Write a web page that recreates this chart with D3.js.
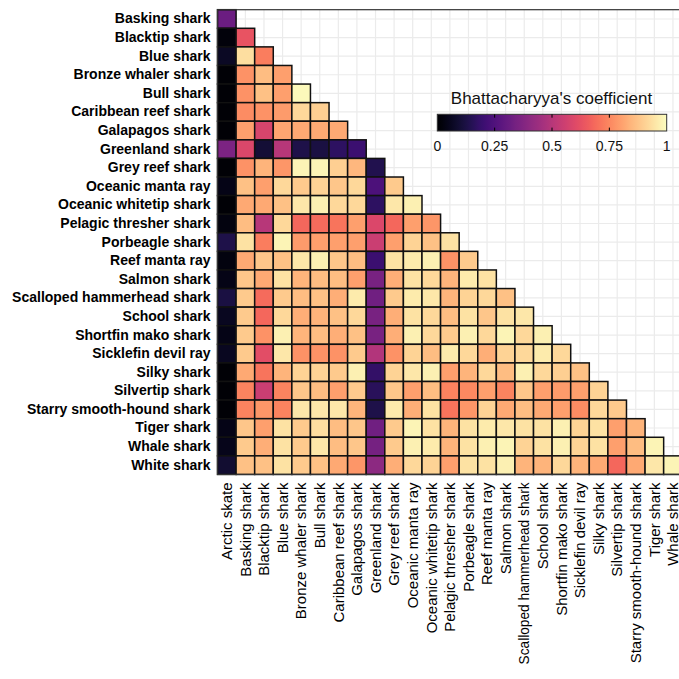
<!DOCTYPE html>
<html>
<head>
<meta charset="utf-8">
<script src="https://cdn.jsdelivr.net/npm/d3@7"></script>
<style>
  html, body { margin: 0; padding: 0; background: #fff; overflow: hidden; }
  svg { display: block; }
</style>
</head>
<body>
<svg id="chart" width="679" height="679"></svg>
<script>
// Row species (y axis, top to bottom)
const rowSpecies = ["Basking shark", "Blacktip shark", "Blue shark", "Bronze whaler shark", "Bull shark",
  "Caribbean reef shark", "Galapagos shark", "Greenland shark", "Grey reef shark", "Oceanic manta ray",
  "Oceanic whitetip shark", "Pelagic thresher shark", "Porbeagle shark", "Reef manta ray", "Salmon shark",
  "Scalloped hammerhead shark", "School shark", "Shortfin mako shark", "Sicklefin devil ray", "Silky shark",
  "Silvertip shark", "Starry smooth-hound shark", "Tiger shark", "Whale shark", "White shark"];
// Column species (x axis, left to right)
const colSpecies = ["Arctic skate", "Basking shark", "Blacktip shark", "Blue shark", "Bronze whaler shark",
  "Bull shark", "Caribbean reef shark", "Galapagos shark", "Greenland shark", "Grey reef shark",
  "Oceanic manta ray", "Oceanic whitetip shark", "Pelagic thresher shark", "Porbeagle shark", "Reef manta ray",
  "Salmon shark", "Scalloped hammerhead shark", "School shark", "Shortfin mako shark", "Sicklefin devil ray",
  "Silky shark", "Silvertip shark", "Starry smooth-hound shark", "Tiger shark", "Whale shark"];

// Bhattacharyya's coefficient, one array per row (values for columns 0..i)
const bcBasking = [0.32];
const bcBlacktip = [0.02, 0.63];
const bcBlue = [0.07, 0.93, 0.73];
const bcBronzeWhaler = [0.01, 0.77, 0.86, 0.80];
const bcBull = [0.01, 0.77, 0.87, 0.80, 0.99];
const bcCaribbeanReef = [0.01, 0.76, 0.77, 0.79, 0.92, 0.90];
const bcGalapagos = [0.01, 0.80, 0.58, 0.81, 0.82, 0.82, 0.82];
const bcGreenland = [0.36, 0.59, 0.10, 0.50, 0.13, 0.12, 0.17, 0.20];
const bcGreyReef = [0.01, 0.77, 0.84, 0.78, 0.98, 0.98, 0.90, 0.85, 0.14];
const bcOceanicManta = [0.04, 0.87, 0.80, 0.92, 0.89, 0.91, 0.88, 0.92, 0.24, 0.89];
const bcOceanicWhitetip = [0.01, 0.82, 0.82, 0.87, 0.95, 0.97, 0.92, 0.92, 0.17, 0.95, 0.97];
const bcPelagicThresher = [0.03, 0.86, 0.50, 0.92, 0.68, 0.69, 0.71, 0.80, 0.59, 0.68, 0.80, 0.78];
const bcPorbeagle = [0.13, 0.94, 0.73, 0.98, 0.79, 0.80, 0.80, 0.80, 0.55, 0.80, 0.91, 0.87, 0.94];
const bcReefManta = [0.03, 0.82, 0.88, 0.87, 0.95, 0.97, 0.88, 0.86, 0.20, 0.94, 0.96, 0.97, 0.77, 0.89];
const bcSalmon = [0.04, 0.88, 0.82, 0.94, 0.84, 0.86, 0.86, 0.80, 0.35, 0.83, 0.94, 0.92, 0.84, 0.96, 0.94];
const bcScalloped = [0.12, 0.89, 0.69, 0.89, 0.86, 0.87, 0.83, 0.96, 0.33, 0.89, 0.96, 0.95, 0.84, 0.91, 0.92, 0.87];
const bcSchool = [0.06, 0.89, 0.68, 0.92, 0.83, 0.84, 0.87, 0.92, 0.35, 0.83, 0.94, 0.92, 0.86, 0.94, 0.88, 0.94, 0.95];
const bcShortfinMako = [0.04, 0.89, 0.77, 0.97, 0.84, 0.86, 0.83, 0.87, 0.35, 0.83, 0.97, 0.92, 0.89, 0.97, 0.92, 0.98, 0.92, 0.97];
const bcSicklefin = [0.06, 0.89, 0.61, 0.95, 0.77, 0.77, 0.77, 0.89, 0.49, 0.77, 0.91, 0.86, 0.96, 0.92, 0.83, 0.91, 0.92, 0.96, 0.92];
const bcSilky = [0.01, 0.82, 0.71, 0.84, 0.91, 0.91, 0.89, 0.97, 0.18, 0.91, 0.95, 0.97, 0.80, 0.84, 0.92, 0.86, 0.97, 0.92, 0.90, 0.87];
const bcSilvertip = [0.01, 0.74, 0.55, 0.74, 0.88, 0.86, 0.80, 0.89, 0.16, 0.88, 0.80, 0.86, 0.74, 0.75, 0.80, 0.74, 0.88, 0.80, 0.79, 0.80, 0.91];
const bcStarry = [0.01, 0.74, 0.78, 0.74, 0.95, 0.95, 0.95, 0.84, 0.13, 0.96, 0.83, 0.94, 0.71, 0.78, 0.91, 0.82, 0.86, 0.82, 0.80, 0.76, 0.92, 0.89];
const bcTiger = [0.04, 0.88, 0.80, 0.94, 0.89, 0.93, 0.86, 0.88, 0.33, 0.89, 0.98, 0.94, 0.84, 0.94, 0.96, 0.95, 0.94, 0.94, 0.97, 0.91, 0.94, 0.80, 0.84];
const bcWhale = [0.05, 0.89, 0.83, 0.94, 0.89, 0.95, 0.86, 0.88, 0.34, 0.89, 0.97, 0.96, 0.84, 0.94, 0.97, 0.98, 0.91, 0.94, 0.97, 0.91, 0.94, 0.80, 0.86, 0.98];
const bcWhite = [0.09, 0.87, 0.87, 0.94, 0.89, 0.87, 0.82, 0.78, 0.40, 0.83, 0.92, 0.91, 0.80, 0.94, 0.94, 0.97, 0.84, 0.84, 0.92, 0.84, 0.82, 0.68, 0.82, 0.95, 0.98];

const legendTitle = "Bhattacharyya's coefficient";
const legendTicks = [0, 0.25, 0.5, 0.75, 1];

const rowValues = [bcBasking, bcBlacktip, bcBlue, bcBronzeWhaler, bcBull, bcCaribbeanReef, bcGalapagos,
  bcGreenland, bcGreyReef, bcOceanicManta, bcOceanicWhitetip, bcPelagicThresher, bcPorbeagle, bcReefManta,
  bcSalmon, bcScalloped, bcSchool, bcShortfinMako, bcSicklefin, bcSilky, bcSilvertip, bcStarry, bcTiger,
  bcWhale, bcWhite];

const cells = [];
rowValues.forEach((vals, i) => vals.forEach((v, j) => cells.push({ row: rowSpecies[i], col: colSpecies[j], value: v })));

// ---- layout ----
const svg = d3.select("#chart");
const step = 18.59;
const x0 = 217.5, y0 = 9.7;
const x = d3.scaleBand().domain(colSpecies).range([x0, x0 + step * colSpecies.length]).padding(0);
const y = d3.scaleBand().domain(rowSpecies).range([y0, y0 + step * rowSpecies.length]).padding(0);
const color = d3.scaleSequential(d3.interpolateMagma).domain([0, 1]);

const [px0, px1] = x.range();
const [py0, py1] = y.range();

// grid
const grid = svg.append("g");
grid.selectAll("line.v").data(colSpecies).join("line")
  .attr("x1", d => x(d) + x.bandwidth() / 2).attr("x2", d => x(d) + x.bandwidth() / 2)
  .attr("y1", py0).attr("y2", py1)
  .attr("stroke", "#ebebeb").attr("stroke-width", 1.2);
grid.selectAll("line.h").data(rowSpecies).join("line")
  .attr("y1", d => y(d) + y.bandwidth() / 2).attr("y2", d => y(d) + y.bandwidth() / 2)
  .attr("x1", px0).attr("x2", px1)
  .attr("stroke", "#ebebeb").attr("stroke-width", 1.2);

// tiles
svg.append("g").selectAll("rect").data(cells).join("rect")
  .attr("x", d => x(d.col)).attr("y", d => y(d.row))
  .attr("width", x.bandwidth()).attr("height", y.bandwidth())
  .attr("fill", d => color(d.value))
  .attr("stroke", "#111").attr("stroke-width", 1.5);

// panel border
svg.append("rect")
  .attr("x", px0).attr("y", py0).attr("width", px1 - px0).attr("height", py1 - py0)
  .attr("fill", "none").attr("stroke", "#333").attr("stroke-width", 1.2);

// y axis labels
const yAxis = d3.axisLeft(y).tickSize(0).tickPadding(7);
const gy = svg.append("g").attr("transform", `translate(${px0},0)`).call(yAxis);
gy.select(".domain").remove();
gy.selectAll("text")
  .attr("font-family", "'Liberation Sans', Arial, sans-serif")
  .attr("font-size", 14).attr("font-weight", "bold").attr("fill", "#000");

// x axis labels
const xAxis = d3.axisBottom(x).tickSize(0).tickPadding(0);
const gx = svg.append("g").attr("transform", `translate(0,${py1})`).call(xAxis);
gx.select(".domain").remove();
gx.selectAll("text")
  .attr("font-family", "'Liberation Sans', Arial, sans-serif")
  .attr("font-size", 15).attr("fill", "#000")
  .attr("transform", "rotate(-90)")
  .attr("x", -8).attr("y", 0).attr("dy", "0.35em")
  .attr("text-anchor", "end")
  .each(function () {
    const len = this.getComputedTextLength();
    const maxLen = 182;
    if (len > maxLen) {
      d3.select(this).attr("textLength", maxLen).attr("lengthAdjust", "spacingAndGlyphs");
    }
  });

// legend
const lx0 = 437.3, lx1 = 666.7, ly0 = 114.3, lh = 16.7;
const lscale = d3.scaleLinear().domain([0, 1]).range([lx0, lx1]);
const defs = svg.append("defs");
const grad = defs.append("linearGradient").attr("id", "magmaGrad").attr("x1", "0%").attr("x2", "100%");
d3.range(0, 1.0001, 0.02).forEach(t => grad.append("stop").attr("offset", `${t * 100}%`).attr("stop-color", color(t)));

const lg = svg.append("g");
lg.append("text").attr("x", (lx0 + lx1) / 2 - 0.5).attr("y", 104.3)
  .attr("text-anchor", "middle")
  .attr("font-family", "'Liberation Sans', Arial, sans-serif").attr("font-size", 17).attr("fill", "#111")
  .text(legendTitle);
lg.append("rect").attr("x", lx0).attr("y", ly0).attr("width", lx1 - lx0).attr("height", lh)
  .attr("fill", "url(#magmaGrad)").attr("stroke", "#333").attr("stroke-width", 1);
lg.selectAll("line.tt").data(legendTicks.slice(1, -1)).join("line")
  .attr("x1", d => lscale(d)).attr("x2", d => lscale(d))
  .attr("y1", ly0).attr("y2", ly0 + 3.4).attr("stroke", "#000").attr("stroke-width", 1);
lg.selectAll("line.tb").data(legendTicks.slice(1, -1)).join("line")
  .attr("x1", d => lscale(d)).attr("x2", d => lscale(d))
  .attr("y1", ly0 + lh - 3.4).attr("y2", ly0 + lh).attr("stroke", "#000").attr("stroke-width", 1);
lg.selectAll("text.tl").data(legendTicks).join("text")
  .attr("x", d => lscale(d)).attr("y", 151)
  .attr("text-anchor", "middle")
  .attr("font-family", "'Liberation Sans', Arial, sans-serif").attr("font-size", 14).attr("fill", "#111")
  .text(d => d3.format("")(d));
</script>
</body>
</html>
